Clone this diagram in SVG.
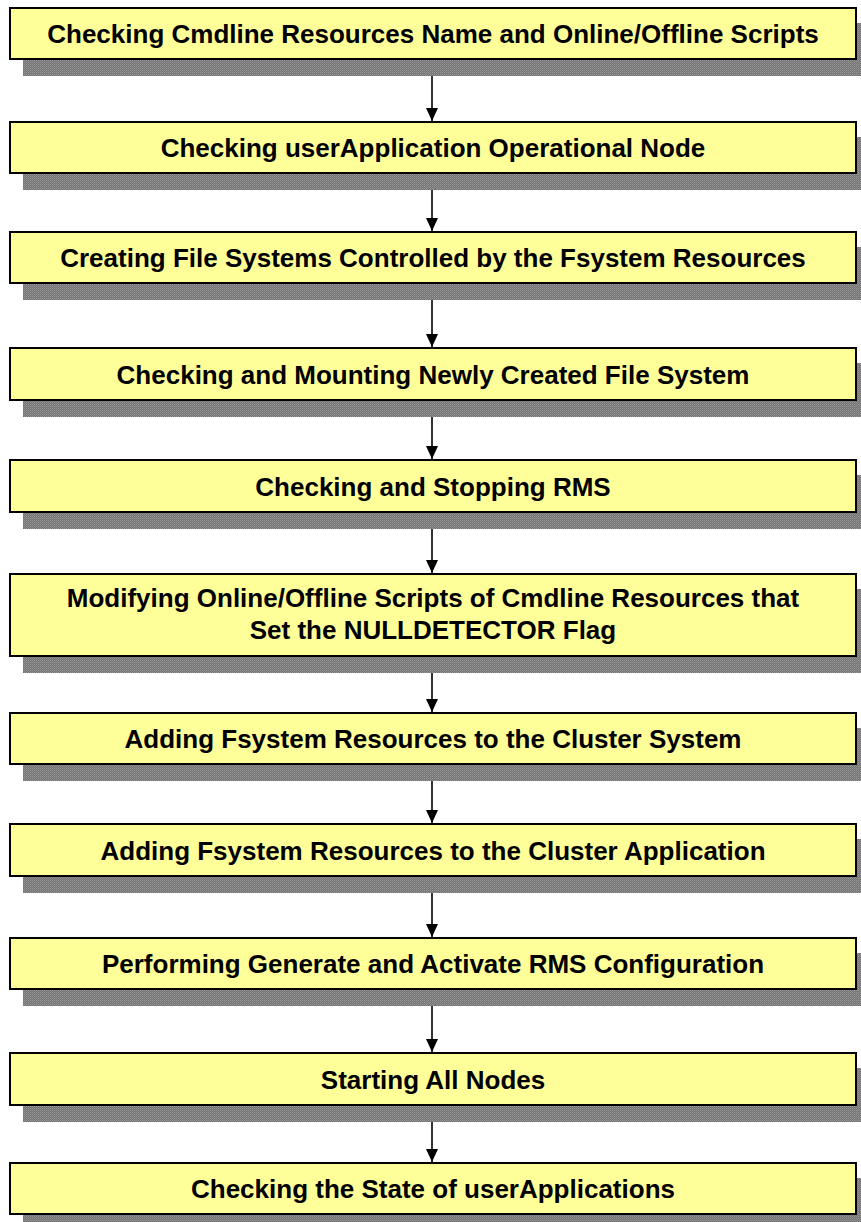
<svg xmlns="http://www.w3.org/2000/svg" width="861" height="1222" viewBox="0 0 861 1222">
<style>
.box{fill:#ffff99;stroke:#000;stroke-width:2}
.sh{fill:url(#dither)}
.t{font-family:"Liberation Sans",Arial,sans-serif;font-weight:bold;font-size:26px;fill:#000;text-anchor:middle}
.c{stroke:#000;stroke-width:1.6;fill:none;marker-end:url(#ah)}
</style>
<defs>
<pattern id="dither" width="2" height="2" patternUnits="userSpaceOnUse">
<rect width="2" height="2" fill="#747474"/>
<rect width="1" height="1" fill="#989898"/>
<rect x="1" y="1" width="1" height="1" fill="#868686"/>
</pattern>
<marker id="ah" markerWidth="13" markerHeight="12" refX="13" refY="6" orient="auto" markerUnits="userSpaceOnUse">
<path d="M0,0 L13,6 L0,12 z" fill="#000"/>
</marker>
</defs>
<g id="connectors">
<line class="c" x1="432" y1="60" x2="432" y2="121"/>
<line class="c" x1="432" y1="174" x2="432" y2="231"/>
<line class="c" x1="432" y1="284" x2="432" y2="347"/>
<line class="c" x1="432" y1="401" x2="432" y2="459"/>
<line class="c" x1="432" y1="513" x2="432" y2="573"/>
<line class="c" x1="432" y1="657" x2="432" y2="712"/>
<line class="c" x1="432" y1="765" x2="432" y2="823"/>
<line class="c" x1="432" y1="877" x2="432" y2="937"/>
<line class="c" x1="432" y1="990" x2="432" y2="1052"/>
<line class="c" x1="432" y1="1106" x2="432" y2="1162"/>
</g>
<g id="n1"><rect class="sh" x="23" y="23" width="848" height="53"/><rect class="box" x="10" y="8" width="846" height="51"/><text class="t" x="433" y="43">Checking Cmdline Resources Name and Online/Offline Scripts</text></g>
<g id="n2"><rect class="sh" x="23" y="137" width="848" height="53"/><rect class="box" x="10" y="122" width="846" height="51"/><text class="t" x="433" y="157">Checking userApplication Operational Node</text></g>
<g id="n3"><rect class="sh" x="23" y="247" width="848" height="53"/><rect class="box" x="10" y="232" width="846" height="51"/><text class="t" x="433" y="267">Creating File Systems Controlled by the Fsystem Resources</text></g>
<g id="n4"><rect class="sh" x="23" y="363" width="848" height="54"/><rect class="box" x="10" y="348" width="846" height="52"/><text class="t" x="433" y="384">Checking and Mounting Newly Created File System</text></g>
<g id="n5"><rect class="sh" x="23" y="475" width="848" height="54"/><rect class="box" x="10" y="460" width="846" height="52"/><text class="t" x="433" y="496">Checking and Stopping RMS</text></g>
<g id="n6"><rect class="sh" x="23" y="589" width="848" height="84"/><rect class="box" x="10" y="574" width="846" height="82"/><text class="t" x="433" y="607">Modifying Online/Offline Scripts of Cmdline Resources that</text><text class="t" x="433" y="639">Set the NULLDETECTOR Flag</text></g>
<g id="n7"><rect class="sh" x="23" y="728" width="848" height="53"/><rect class="box" x="10" y="713" width="846" height="51"/><text class="t" x="433" y="748">Adding Fsystem Resources to the Cluster System</text></g>
<g id="n8"><rect class="sh" x="23" y="839" width="848" height="54"/><rect class="box" x="10" y="824" width="846" height="52"/><text class="t" x="433" y="860">Adding Fsystem Resources to the Cluster Application</text></g>
<g id="n9"><rect class="sh" x="23" y="953" width="848" height="53"/><rect class="box" x="10" y="938" width="846" height="51"/><text class="t" x="433" y="973">Performing Generate and Activate RMS Configuration</text></g>
<g id="n10"><rect class="sh" x="23" y="1068" width="848" height="54"/><rect class="box" x="10" y="1053" width="846" height="52"/><text class="t" x="433" y="1089">Starting All Nodes</text></g>
<g id="n11"><rect class="sh" x="23" y="1178" width="848" height="53"/><rect class="box" x="10" y="1163" width="846" height="51"/><text class="t" x="433" y="1198">Checking the State of userApplications</text></g>
</svg>
